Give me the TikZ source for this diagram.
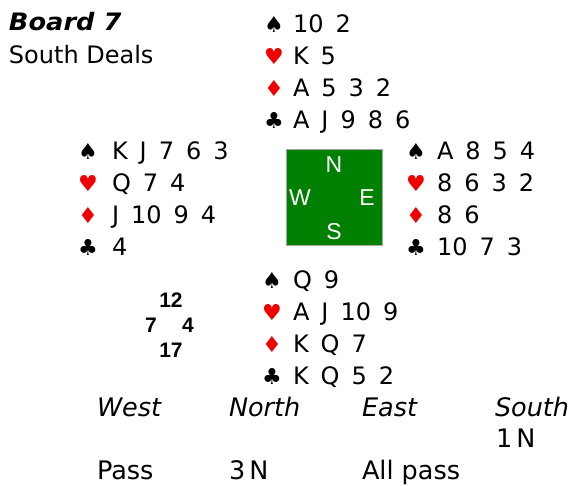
\documentclass[tikz,border=0pt]{standalone}
\usepackage{fontspec}
\setmainfont{DejaVu Sans}
\newfontfamily\suitfont{DejaVu Sans}
\newfontfamily\arialfont{Liberation Sans}
\definecolor{suitred}{RGB}{240,0,0}
\definecolor{boardgreen}{RGB}{0,128,0}
\newcommand\suitsym[1]{\ifcase#1\or\textcolor{black}{♠}\or\textcolor{suitred}{♥}\or\textcolor{suitred}{♦}\or\textcolor{black}{♣}\fi}
\newcommand\cardline[1]{\spaceskip=12pt\relax#1}
\begin{document}
\begin{tikzpicture}[x=1pt,y=-1pt,
  every node/.style={inner sep=0pt,outer sep=0pt},
  cardtext/.style={anchor=base west,font=\fontsize{24}{28}\selectfont},
  suitmark/.style={anchor=base,font=\suitfont\fontsize{22}{26}\selectfont},
  plain/.style={anchor=base west,font=\fontsize{24}{28}\selectfont},
  bid/.style={anchor=base west,font=\fontsize{25.5}{28}\selectfont},
  heading/.style={anchor=base west,font=\itshape\fontsize{25.5}{28}\selectfont},
  compass/.style={anchor=base,text=white,font=\arialfont\fontsize{23}{26}\selectfont},
  hcp/.style={anchor=base,font=\arialfont\bfseries\fontsize{21}{24}\selectfont},
  tablebox/.style={draw=gray!70,line width=0.8pt,fill=boardgreen,minimum size=96pt,anchor=north west}]
\useasboundingbox (0,0) rectangle (575,485);

% title
\node[anchor=base west,font=\bfseries\itshape\fontsize{24}{28}\selectfont] (board) at (9,30) {\scalebox{1.07}[1]{Board 7}};
\node[plain] (dealer) at (9,63) {South Deals};

% hands: prefix / suit x / text x / first baseline / cards
\foreach \p/\sx/\tx/\by/\hs/\hh/\hd/\hc in {
  N/274/293/32/{10 2}/{K 5}/{A 5 3 2}/{A J 9 8 6},
  W/88/112/159/{K J 7 6 3}/{Q 7 4}/{J 10 9 4}/{4},
  E/416/437/159/{A 8 5 4}/{8 6 3 2}/{8 6}/{10 7 3},
  S/272/293/288/{Q 9}/{A J 10 9}/{K Q 7}/{K Q 5 2}}{
  \foreach \i/\cards in {1/\hs,2/\hh,3/\hd,4/\hc}{
    \node[suitmark] (\p s\i) at (\sx,{\by+32*(\i-1)}) {\suitsym{\i}};
    \node[cardtext] (\p c\i) at (\tx,{\by+32*(\i-1)}) {\cardline{\cards}};
  }
}

% table
\node[tablebox] (table) at (286,149) {};
\node[compass] (cN) at (334,172) {N};
\node[compass] (cW) at (300,205) {W};
\node[compass] (cE) at (367,205) {E};
\node[compass] (cS) at (334,239) {S};

% points
\node[hcp] (pN) at (171,307) {12};
\node[hcp] (pW) at (151,332) {7};
\node[hcp] (pE) at (188,332) {4};
\node[hcp] (pS) at (171,357) {17};

% auction
\node[heading] (hW) at (97,416) {West};
\node[heading] (hN) at (229,416) {North};
\node[heading] (hE) at (362,416) {East};
\node[heading] (hS) at (495,416) {South};
\node[bid] (b1) at (496,447) {1\,N};
\node[bid] (b2) at (97,479) {Pass};
\node[bid] (b3) at (229,479) {3\,N};
\node[bid] (b4) at (362,479) {All pass};
\end{tikzpicture}
\end{document}
